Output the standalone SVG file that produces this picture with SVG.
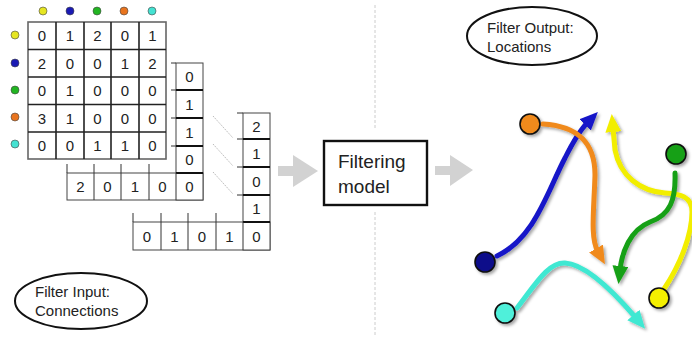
<svg xmlns="http://www.w3.org/2000/svg" width="692" height="340" viewBox="0 0 692 340">
  <style>
    text { font-family: "Liberation Sans", Arial, sans-serif; fill: #222; }
    .num { font-size: 15px; text-anchor: middle; }
    .lbl { font-size: 15px; }
    .big { font-size: 19px; }
    .grid { fill: #fff; stroke: #666; stroke-width: 1.6; }
    .in { stroke: #222; stroke-width: 1.6; fill: none; }
    .vec { fill: #fff; stroke: #444; stroke-width: 1; }
    .sep { stroke: #111; stroke-width: 1.8; }
    .tick { stroke: #333; stroke-width: 1; }
    .diag { stroke: #bbb; stroke-width: 1; stroke-dasharray: 1.5 1; }
    .dot { stroke: #444; stroke-width: 0.6; }
    .flow { fill: none; stroke-width: 5; stroke-linecap: round; }
    .node { stroke: #111; stroke-width: 1.6; }
  </style>
  <defs>
    <filter id="shadow" x="-20%" y="-20%" width="140%" height="140%">
      <feDropShadow dx="2" dy="2" stdDeviation="1.5" flood-color="#000" flood-opacity="0.35"/>
    </filter>
    <marker id="hBlue" markerUnits="userSpaceOnUse" markerWidth="20" markerHeight="20" refX="4" refY="8" orient="auto">
      <path d="M0,0 L18,8 L0,16 z" fill="#1414c8"/>
    </marker>
    <marker id="hOrange" markerUnits="userSpaceOnUse" markerWidth="20" markerHeight="20" refX="4" refY="8" orient="auto">
      <path d="M0,0 L18,8 L0,16 z" fill="#f08a1c"/>
    </marker>
    <marker id="hYellow" markerUnits="userSpaceOnUse" markerWidth="20" markerHeight="20" refX="4" refY="8" orient="auto">
      <path d="M0,0 L18,8 L0,16 z" fill="#f2ee00"/>
    </marker>
    <marker id="hGreen" markerUnits="userSpaceOnUse" markerWidth="20" markerHeight="20" refX="4" refY="8" orient="auto">
      <path d="M0,0 L18,8 L0,16 z" fill="#16a016"/>
    </marker>
    <marker id="hCyan" markerUnits="userSpaceOnUse" markerWidth="20" markerHeight="20" refX="4" refY="8" orient="auto">
      <path d="M0,0 L18,8 L0,16 z" fill="#40e8d2"/>
    </marker>
  </defs>

  <rect width="692" height="340" fill="#fff"/>

  <!-- dashed divider -->
  <line x1="375" y1="5" x2="375" y2="128" stroke="#ccc" stroke-width="1" stroke-dasharray="3 2"/>
  <line x1="375" y1="212" x2="375" y2="336" stroke="#ccc" stroke-width="1" stroke-dasharray="3 2"/>

  <!-- connection matrix -->
  <g id="matrix">
    <g id="colDots">
      <circle class="dot" cx="43" cy="11" r="4" fill="#e6e622"/>
      <circle class="dot" cx="70" cy="11" r="4" fill="#1a1ab4"/>
      <circle class="dot" cx="97" cy="11" r="4" fill="#22b522"/>
      <circle class="dot" cx="124" cy="11" r="4" fill="#e8741e"/>
      <circle class="dot" cx="152" cy="11" r="4" fill="#44e2d2"/>
    </g>
    <g id="rowDots">
      <circle class="dot" cx="15" cy="35" r="4" fill="#e6e622"/>
      <circle class="dot" cx="15" cy="63" r="4" fill="#1a1ab4"/>
      <circle class="dot" cx="15" cy="90" r="4" fill="#22b522"/>
      <circle class="dot" cx="15" cy="117" r="4" fill="#e8741e"/>
      <circle class="dot" cx="15" cy="144" r="4" fill="#44e2d2"/>
    </g>
    <rect class="grid" x="28" y="22" width="138" height="137"/>
    <path class="in" d="M56,22V159 M84,22V159 M111,22V159 M139,22V159"/>
    <path class="in" stroke="#555" d="M28,49.5H166 M28,77H166 M28,104.5H166 M28,132H166"/>
    <g class="num">
      <text x="42" y="41">0</text><text x="70" y="41">1</text><text x="97.5" y="41">2</text><text x="125" y="41">0</text><text x="152.5" y="41">1</text>
      <text x="42" y="68.5">2</text><text x="70" y="68.5">0</text><text x="97.5" y="68.5">0</text><text x="125" y="68.5">1</text><text x="152.5" y="68.5">2</text>
      <text x="42" y="96">0</text><text x="70" y="96">1</text><text x="97.5" y="96">0</text><text x="125" y="96">0</text><text x="152.5" y="96">0</text>
      <text x="42" y="123.5">3</text><text x="70" y="123.5">1</text><text x="97.5" y="123.5">0</text><text x="125" y="123.5">0</text><text x="152.5" y="123.5">0</text>
      <text x="42" y="151">0</text><text x="70" y="151">0</text><text x="97.5" y="151">1</text><text x="125" y="151">1</text><text x="152.5" y="151">0</text>
    </g>
  </g>

  <!-- first pair of vectors -->
  <g id="vectors1">
    <rect class="vec" x="176" y="63" width="27" height="137"/>
    <rect class="vec" x="67" y="173" width="136" height="27"/>
    <path class="sep" d="M176,90H203 M176,118H203 M176,146H203 M176,173H203"/>
    <path class="tick" d="M94,173V200 M121,173V200 M149,173V200 M176,173V200"/>
    <path class="tick" d="M171,63H176 M171,90H176 M171,118H176 M171,146H176"/>
    <path class="tick" d="M67,164V173 M94,164V173 M121,164V173 M149,164V173"/>
    <g class="num">
      <text x="189.5" y="82">0</text><text x="189.5" y="109.5">1</text><text x="189.5" y="137.5">1</text><text x="189.5" y="165">0</text><text x="189.5" y="192">0</text>
      <text x="80.5" y="192">2</text><text x="107.5" y="192">0</text><text x="135" y="192">1</text><text x="162.5" y="192">0</text>
    </g>
  </g>

  <!-- second pair of vectors -->
  <g id="vectors2">
    <rect class="vec" x="243" y="113" width="27" height="137"/>
    <rect class="vec" x="133" y="222" width="137" height="28"/>
    <path class="sep" d="M243,139H270 M243,167H270 M243,195H270 M243,222H270"/>
    <path class="tick" d="M161,222V250 M188,222V250 M216,222V250 M243,222V250"/>
    <path class="tick" d="M237,113H243 M237,139H243 M237,167H243 M237,195H243"/>
    <path class="tick" d="M133,213V222 M161,213V222 M188,213V222 M216,213V222"/>
    <g class="num">
      <text x="256.5" y="131.5">2</text><text x="256.5" y="158.5">1</text><text x="256.5" y="186.5">0</text><text x="256.5" y="214">1</text><text x="256.5" y="241.5">0</text>
      <text x="147" y="241.5">0</text><text x="174.5" y="241.5">1</text><text x="202" y="241.5">0</text><text x="229.5" y="241.5">1</text>
    </g>
  </g>

  <g id="connectors">
    <path class="diag" d="M213,116 L233,138 M213,144 L233,166 M213,172 L233,194"/>
    <polygon points="278,166 293,166 293,155 318,171 293,187 293,176 278,176" fill="#d2d2d2"/>
    <polygon points="435,166 450,166 450,155 473,170 450,186 450,175 435,175" fill="#d2d2d2"/>
  </g>

  <g id="filteringModel">
    <rect x="324" y="141" width="103" height="64" fill="#fff" stroke="#111" stroke-width="2.4"/>
    <text class="big" x="338" y="168">Filtering</text>
    <text class="big" x="338" y="193">model</text>
  </g>

  <g id="filterInput">
    <ellipse cx="81" cy="301" rx="66" ry="28" fill="#fff" stroke="#111" stroke-width="2"/>
    <text class="lbl" x="35" y="297">Filter Input:</text>
    <text class="lbl" x="35" y="316">Connections</text>
  </g>

  <g id="filterOutput">
    <ellipse cx="532" cy="36" rx="65" ry="29" fill="#fff" stroke="#111" stroke-width="2"/>
    <text class="lbl" x="487" y="33">Filter Output:</text>
    <text class="lbl" x="487" y="52">Locations</text>
  </g>

  <!-- location flows -->
  <g id="locations" filter="url(#shadow)">
    <path class="flow" stroke="#f2ee00" d="M664,289 C680,265 692,235 692,212 C692,196 680,194 665,193 C640,191 620,176 615,150 L613,128" marker-end="url(#hYellow)"/>
    <path class="flow" stroke="#1414c8" d="M497,256 C535,238 548,190 565,158 C574,140 580,130 588,122" marker-end="url(#hBlue)"/>
    <path class="flow" stroke="#f08a1c" d="M543,124 C575,126 595,140 595,175 C594,210 590,238 598,252" marker-end="url(#hOrange)"/>
    <path class="flow" stroke="#16a016" d="M675,173 C676,200 670,215 650,222 C630,230 622,252 620,270" marker-end="url(#hGreen)"/>
    <path class="flow" stroke="#40e8d2" d="M517,308 C535,285 548,262 565,263 C585,264 612,290 636,318" marker-end="url(#hCyan)"/>
    <circle class="node" cx="485" cy="262" r="10" fill="#10108a"/>
    <circle class="node" cx="530" cy="124" r="10" fill="#f08a1c"/>
    <circle class="node" cx="676" cy="154" r="10" fill="#18a018"/>
    <circle class="node" cx="659" cy="298" r="10" fill="#f5f000"/>
    <circle class="node" cx="505" cy="313" r="10" fill="#50f0da"/>
  </g>
</svg>
